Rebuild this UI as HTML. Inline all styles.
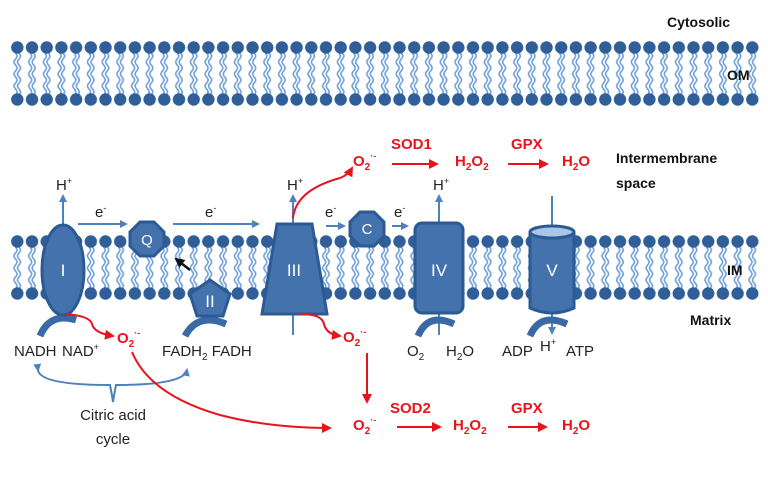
<!DOCTYPE html>
<html><head><meta charset="utf-8"><style>
html,body{margin:0;padding:0;background:#fff;}
svg{display:block;font-family:"Liberation Sans",sans-serif;}
.k{font-size:15px;fill:#222;}
.b{font-size:14px;font-weight:bold;fill:#111;}
.r{font-size:15px;font-weight:bold;fill:#e8141b;}
.w{font-size:17px;fill:#fff;text-anchor:middle;}
</style></head><body>
<svg width="768" height="485" viewBox="0 0 768 485" xmlns="http://www.w3.org/2000/svg">
<defs>
<pattern id="lip" x="10" y="41" width="14.7" height="66" patternUnits="userSpaceOnUse">
<path d="M5.5 12 q3 3 0 6 q-3 3 0 6 q3 3 0 6 q-3 3 0 6 q3 3 0 6 q-3 3 0 6 q3 3 0 6 M9 12 q3 3 0 6 q-3 3 0 6 q3 3 0 6 q-3 3 0 6 q3 3 0 6 q-3 3 0 6 q3 3 0 6" fill="none" stroke="#6fa0d8" stroke-width="1.6"/>
<circle cx="7.3" cy="6.5" r="6.2" fill="#2f5e98"/>
<circle cx="7.3" cy="58.5" r="6.2" fill="#2f5e98"/>
</pattern>
<marker id="ab" markerWidth="8" markerHeight="8" refX="6" refY="4" orient="auto" markerUnits="userSpaceOnUse"><path d="M0 0L8 4L0 8z" fill="#4f81bd"/></marker>
<marker id="ar" markerWidth="10" markerHeight="10" refX="8" refY="5" orient="auto" markerUnits="userSpaceOnUse"><path d="M0 0L10 5L0 10z" fill="#e8141b"/></marker>
<marker id="ak" markerWidth="10" markerHeight="10" refX="8" refY="5" orient="auto" markerUnits="userSpaceOnUse"><path d="M0 0L10 5L0 10z" fill="#111"/></marker>
</defs>
<rect x="10" y="41" width="750" height="66" fill="url(#lip)"/>
<g transform="translate(0,194)"><rect x="10" y="41" width="750" height="66" fill="url(#lip)"/></g>

<text class="b" x="667" y="27">Cytosolic</text>
<text class="b" x="727" y="80">OM</text>
<text class="b" x="616" y="163">Intermembrane</text>
<text class="b" x="616" y="188">space</text>
<text class="b" x="727" y="275">IM</text>
<text class="b" x="690" y="325">Matrix</text>

<g fill="none" stroke="#4f81bd" stroke-width="2">
<line x1="63" y1="315" x2="63" y2="196" marker-end="url(#ab)"/>
<line x1="78" y1="224" x2="126" y2="224" marker-end="url(#ab)"/>
<line x1="173" y1="224" x2="258" y2="224" marker-end="url(#ab)"/>
<line x1="293" y1="335" x2="293" y2="196" marker-end="url(#ab)"/>
<line x1="326" y1="226" x2="344" y2="226" marker-end="url(#ab)"/>
<line x1="392" y1="226" x2="407" y2="226" marker-end="url(#ab)"/>
<line x1="439" y1="335" x2="439" y2="196" marker-end="url(#ab)"/>
<line x1="552" y1="196" x2="552" y2="333" marker-end="url(#ab)"/>
<path d="M38 370 Q40 385 110 385 Q112 395 113 402 Q114 395 116 385 Q184 385 187 370" marker-start="url(#ab)" marker-end="url(#ab)"/>
</g>
<g fill="none" stroke="#3a6aa6" stroke-width="7">
<path d="M40 336 Q50 312 76 320"/>
<path d="M185 336 Q198 312 226 324"/>
<path d="M418 336 Q428 312 454 324"/>
<path d="M530 336 Q540 312 567 324"/>
</g>
<g fill="#4472ad" stroke="#2c5a94" stroke-width="3">
<ellipse cx="63" cy="270" rx="21" ry="45"/>
<polygon points="140,222 154,222 164,232 164,246 154,256 140,256 130,246 130,232"/>
<polygon points="210,280 230,294 223,316 197,316 190,294"/>
<polygon points="277,224 312,224 327,314 262,314"/>
<polygon points="360,212 374,212 384,222 384,236 374,246 360,246 350,236 350,222"/>
<rect x="415" y="223" width="48" height="90" rx="7"/>
<path d="M530 232 L530 308 Q552 318 574 308 L574 232"/>
<ellipse cx="552" cy="232" rx="22" ry="6" fill="#a9c6e8"/>
</g>
<text class="w" x="63" y="276">I</text>
<text class="w" x="147" y="245" style="font-size:15px">Q</text>
<text class="w" x="210" y="307">II</text>
<text class="w" x="294" y="276">III</text>
<text class="w" x="367" y="234" style="font-size:15px">C</text>
<text class="w" x="439" y="276">IV</text>
<text class="w" x="552" y="276">V</text>
<line x1="190" y1="270" x2="176" y2="259" stroke="#111" stroke-width="2.5" marker-end="url(#ak)"/>

<text class="k" x="56" y="190">H<tspan dy="-6" font-size="9">+</tspan></text>
<text class="k" x="287" y="190">H<tspan dy="-6" font-size="9">+</tspan></text>
<text class="k" x="433" y="190">H<tspan dy="-6" font-size="9">+</tspan></text>
<text class="k" x="95" y="217">e<tspan dy="-6" font-size="9">-</tspan></text>
<text class="k" x="205" y="217">e<tspan dy="-6" font-size="9">-</tspan></text>
<text class="k" x="325" y="217">e<tspan dy="-6" font-size="9">-</tspan></text>
<text class="k" x="394" y="217">e<tspan dy="-6" font-size="9">-</tspan></text>

<text class="k" x="14" y="356">NADH</text>
<text class="k" x="62" y="356">NAD<tspan dy="-6" font-size="9">+</tspan></text>
<text class="k" x="162" y="356">FADH<tspan dy="4" font-size="10">2</tspan><tspan dy="-4"> FADH</tspan></text>
<text class="k" x="407" y="356">O<tspan dy="4" font-size="10">2</tspan></text>
<text class="k" x="446" y="356">H<tspan dy="4" font-size="10">2</tspan><tspan dy="-4">O</tspan></text>
<text class="k" x="502" y="356">ADP</text>
<text class="k" x="540" y="351">H<tspan dy="-6" font-size="9">+</tspan></text>
<text class="k" x="566" y="356">ATP</text>
<text class="k" x="113" y="420" text-anchor="middle">Citric acid</text>
<text class="k" x="113" y="444" text-anchor="middle">cycle</text>

<g fill="none" stroke="#e8141b" stroke-width="2">
<path d="M66 314 Q90 316 92 324 Q94 333 113 336" marker-end="url(#ar)"/>
<path d="M293 218 Q296 190 340 178 Q348 175 352 168" marker-end="url(#ar)"/>
<path d="M300 314 Q322 314 324 324 Q326 334 340 336" marker-end="url(#ar)"/>
<path d="M132 352 Q150 395 220 415 Q270 428 330 428" marker-end="url(#ar)"/>
<line x1="367" y1="353" x2="367" y2="402" marker-end="url(#ar)"/>
<line x1="392" y1="164" x2="437" y2="164" marker-end="url(#ar)"/>
<line x1="508" y1="164" x2="547" y2="164" marker-end="url(#ar)"/>
<line x1="397" y1="427" x2="440" y2="427" marker-end="url(#ar)"/>
<line x1="508" y1="427" x2="546" y2="427" marker-end="url(#ar)"/>
</g>
<text class="r" x="117" y="343">O<tspan dy="4" font-size="10">2</tspan><tspan dy="-11" font-size="9">·-</tspan></text>
<text class="r" x="343" y="342">O<tspan dy="4" font-size="10">2</tspan><tspan dy="-11" font-size="9">·-</tspan></text>
<text class="r" x="353" y="166">O<tspan dy="4" font-size="10">2</tspan><tspan dy="-11" font-size="9">·-</tspan></text>
<text class="r" x="391" y="149">SOD1</text>
<text class="r" x="455" y="166">H<tspan dy="4" font-size="10">2</tspan><tspan dy="-4">O</tspan><tspan dy="4" font-size="10">2</tspan></text>
<text class="r" x="511" y="149">GPX</text>
<text class="r" x="562" y="166">H<tspan dy="4" font-size="10">2</tspan><tspan dy="-4">O</tspan></text>
<text class="r" x="353" y="430">O<tspan dy="4" font-size="10">2</tspan><tspan dy="-11" font-size="9">·-</tspan></text>
<text class="r" x="390" y="413">SOD2</text>
<text class="r" x="453" y="430">H<tspan dy="4" font-size="10">2</tspan><tspan dy="-4">O</tspan><tspan dy="4" font-size="10">2</tspan></text>
<text class="r" x="511" y="413">GPX</text>
<text class="r" x="562" y="430">H<tspan dy="4" font-size="10">2</tspan><tspan dy="-4">O</tspan></text>
</svg>
</body></html>
